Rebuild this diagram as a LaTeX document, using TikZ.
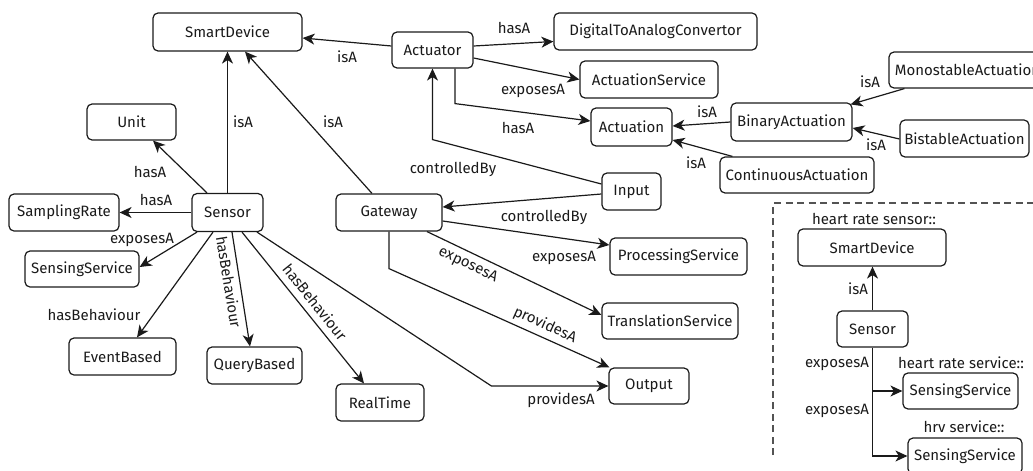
\documentclass[tikz,border=0pt]{standalone}
\usepackage{fontspec}
\setmainfont{Fira Sans}
\usetikzlibrary{arrows.meta,calc}
\definecolor{ink}{HTML}{1A1A1A}
\tikzset{
  box/.style={draw=ink, line width=1.2pt, rounded corners=5pt, inner sep=0pt, text=ink},
  lbl/.style={inner sep=0pt, text=ink},
  conn/.style={draw=ink, line width=1.2pt, -{Stealth[length=12pt,width=11pt,inset=3.5pt]}},
}
\newcommand{\bx}[6]{\node[box, minimum width=#4pt, minimum height=#5pt] (#1) at (#2,#3) {#6};}
\begin{document}
\begin{tikzpicture}[x=1pt,y=-1pt,font=\fontsize{15}{18}\selectfont]
\useasboundingbox (0,0) rectangle (1033,471);
\clip (0,0) rectangle (1033,471);
% nodes
\bx{sd}{227.5}{32}{149}{38}{SmartDevice}
\bx{unit}{131.5}{122}{89}{36}{Unit}
\bx{samp}{64}{212.5}{110}{37}{SamplingRate}
\bx{sensor}{227.5}{212.5}{71}{38}{Sensor}
\bx{gw}{389}{212.5}{106}{37}{Gateway}
\bx{act}{432.5}{50}{81}{36}{Actuator}
\bx{dac}{655.5}{31.5}{203}{37}{DigitalToAnalogConvertor}
\bx{asvc}{649}{79.5}{138}{37}{ActuationService}
\bx{actn}{631.5}{127}{81}{38}{Actuation}
\bx{input}{631.5}{191.5}{59}{37}{Input}
\bx{bin}{791.5}{122}{121}{38}{BinaryActuation}
\bx{mono}{967.5}{70}{157}{36}{MonostableActuation}
\bx{bist}{964.5}{138.5}{129}{37}{BistableActuation}
\bx{cont}{797}{175}{154}{36}{ContinuousActuation}
\bx{ssvc}{82}{269}{114}{36}{SensingService}
\bx{event}{122.5}{356.5}{107}{37}{EventBased}
\bx{query}{254.5}{365.5}{95}{37}{QueryBased}
\bx{rt}{380}{402.5}{88}{37}{RealTime}
\bx{proc}{678.5}{256.5}{137}{37}{ProcessingService}
\bx{trans}{670}{321}{136}{36}{TranslationService}
\bx{out}{649}{386}{80}{36}{Output}
\bx{isd}{872}{247.5}{148}{37}{SmartDevice}
\bx{isens}{872.5}{329}{71}{36}{Sensor}
\bx{iss1}{960.5}{391}{115}{36}{SensingService}
\bx{iss2}{965}{456}{114}{36}{SensingService}
% connectors
\draw[conn] ($(act.west)+(0,-4)$) -- ($(sd.east)+(0,6)$);
\draw[conn] ($(act.east)+(0,-4)$) -- ($(dac.west)+(0,10)$);
\draw[conn] ($(act.east)+(0,8)$) -- (asvc.west);
\draw[conn] ($(act.south)+(22.5,0)$) -- ($(act.south)+(22.5,35)$) -- ($(actn.west)+(0,-6)$);
\draw[conn] ($(input.west)+(0,-7.5)$) -- ($(act.south)+(0,71)$) -- (act.south);
\draw[conn] ($(input.west)+(0,2.5)$) -- ($(gw.east)+(0,-5.5)$);
\draw[conn] ($(gw.east)+(0,8.5)$) -- ($(proc.west)+(0,-11.5)$);
\draw[conn] ($(gw.south)+(38,0)$) -- ($(trans.west)+(0,-6)$);
\draw[conn] (gw.south) -- ($(gw.south)+(0,37)$) -- ($(out.north west)+(1,0)$);
\draw[conn] ($(sensor.south)+(29.5,0)$) -- ($(out.west)+(-117,0)$) -- (out.west);
\draw[conn] (sensor.north) -- (sensor.north |- sd.south);
\draw[conn] ($(gw.north)+(-17,0)$) -- ($(sd.south)+(17.5,0)$);
\draw[conn] ($(sensor.north)+(-20.5,0)$) -- ($(unit.south)+(21.5,0)$);
\draw[conn] (sensor.west) -- (samp.east);
\draw[conn] ($(sensor.south)+(-30.5,0)$) -- ($(ssvc.east)+(0,-2)$);
\draw[conn] ($(sensor.south)+(-14.5,0)$) -- ($(event.north)+(14.5,0)$);
\draw[conn] ($(sensor.south)+(4.5,0)$) -- ($(query.north)+(-4.5,0)$);
\draw[conn] ($(sensor.south)+(14.5,0)$) -- ($(rt.north)+(-16,0)$);
\draw[conn] (bin.west) -- ($(actn.east)+(0,-1)$);
\draw[conn] ($(cont.north west)+(13,0)$) -- ($(actn.east)+(0,13)$);
\draw[conn] ($(mono.south west)+(16,0)$) -- ($(bin.north east)+(-2,2)$);
\draw[conn] ($(bist.west)+(0,0.5)$) -- ($(bin.east)+(0,6)$);
\draw[conn] (isens.north) -- (isens.north |- isd.south);
\draw[conn] (isens.south) |- (iss1.west);
\draw[conn] (isens.south) |- (iss2.west);
% dashed frame
\draw[draw=ink!75, line width=1.2pt, dash pattern=on 7pt off 4.5pt] (773,455) -- (773,203) -- (1040,203);
% labels
\node[lbl] (l1) at (347,57) {isA};
\node[lbl] (l2) at (514,28) {hasA};
\node[lbl] (l3) at (533,91) {exposesA};
\node[lbl] (l4) at (518,128) {hasA};
\node[lbl] (l5) at (453,169) {controlledBy};
\node[lbl] (l6) at (544,217) {controlledBy};
\node[lbl] (l7) at (564,258) {exposesA};
\node[lbl, rotate=-25.6] (l8) at (468,265) {exposesA};
\node[lbl, rotate=-24.3] (l9) at (545,325) {providesA};
\node[lbl] (l10) at (561,400) {providesA};
\node[lbl] (l11) at (243,122) {isA};
\node[lbl] (l12) at (333,122) {isA};
\node[lbl] (l13) at (150,172) {hasA};
\node[lbl] (l14) at (156,200) {hasA};
\node[lbl] (l15) at (142,240) {exposesA};
\node[lbl] (l16) at (94,315) {hasBehaviour};
\node[lbl, rotate=-80.7] (l17) at (229,282) {hasBehaviour};
\node[lbl, rotate=-51.4] (l18) at (315,302) {hasBehaviour};
\node[lbl] (l19) at (707,112) {isA};
\node[lbl] (l20) at (696,163) {isA};
\node[lbl] (l21) at (870,82) {isA};
\node[lbl] (l22) at (876,145) {isA};
\node[lbl] (l23) at (858,289) {isA};
\node[lbl] (l24) at (837,364) {exposesA};
\node[lbl] (l25) at (837,411) {exposesA};
\node[lbl] (t1) at (874,219) {heart rate sensor::};
\node[lbl] (t2) at (961,363) {heart rate service::};
\node[lbl] (t3) at (964,427) {hrv service::};
\end{tikzpicture}
\end{document}
